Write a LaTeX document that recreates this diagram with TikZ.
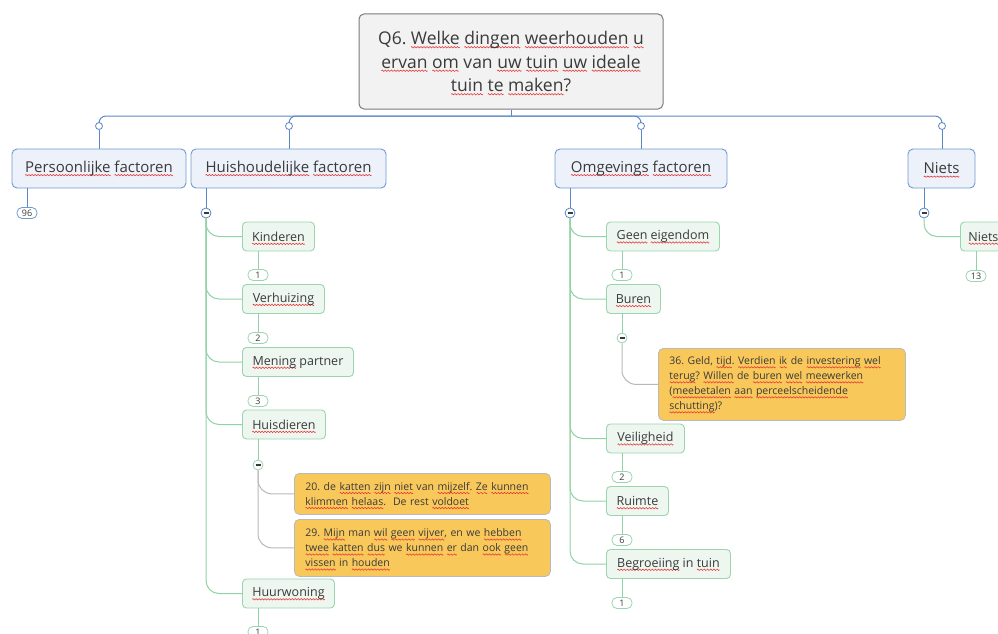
\documentclass[tikz,border=0pt]{standalone}
\usepackage{fontspec}
\setmainfont{Open Sans}
\frenchspacing
\definecolor{txt}{HTML}{3A3A3A}
\definecolor{rootfill}{HTML}{F2F2F2}
\definecolor{rootborder}{HTML}{7A7A7A}
\definecolor{bluefill}{HTML}{EDF2FA}
\definecolor{blueborder}{HTML}{6F99D0}
\definecolor{blueline}{HTML}{5A88C6}
\definecolor{greenfill}{HTML}{EEF6F0}
\definecolor{greenborder}{HTML}{9AD5AD}
\definecolor{greenline}{HTML}{93D1A6}
\definecolor{notefill}{HTML}{F9C85B}
\definecolor{noteborder}{HTML}{B9B9B9}
\definecolor{grayline}{HTML}{B8B8B8}
\definecolor{squig}{HTML}{E83030}
\newsavebox\wavebox
\newsavebox\sqbox
\newcommand\sq[1]{\sbox\sqbox{#1}\leavevmode\rlap{\raisebox{-3.2pt}[0pt][0pt]{\hbox to\wd\sqbox{\xleaders\copy\wavebox\hfil}}}\usebox\sqbox}
\tikzset{
 rootbox/.style={draw=rootborder, fill=rootfill, rounded corners=5pt, line width=1pt, align=center, font=\fontsize{17.5}{23.5}\selectfont, text=txt, minimum width=304pt, minimum height=95pt, inner sep=0pt},
 mainbox/.style={draw=blueborder, fill=bluefill, rounded corners=5pt, line width=0.9pt, font=\fontsize{15}{18}\selectfont, text=txt, minimum height=39pt, inner sep=0pt},
 childbox/.style={draw=greenborder, fill=greenfill, rounded corners=4pt, line width=0.9pt, font=\fontsize{12.5}{15}\selectfont, text=txt, minimum height=29pt, inner sep=0pt, anchor=west},
 notebox/.style={draw=noteborder, fill=notefill, rounded corners=5pt, line width=0.8pt, font=\fontsize{10.5}{15}\selectfont, text=txt, align=left, anchor=north west, inner xsep=11pt, inner ysep=3pt},
 lbl/.style={draw=greenborder, fill=white, rounded corners=5pt, minimum width=20pt, minimum height=11pt, inner sep=0pt, font=\fontsize{9}{9}\selectfont, text=txt, line width=0.8pt},
 minusc/.style={circle, draw=blueline, fill=white, minimum size=10pt, inner sep=0pt, line width=0.8pt, path picture={\draw[line width=1.3pt, txt] ([xshift=-2.5pt]path picture bounding box.center) -- ([xshift=2.5pt]path picture bounding box.center);}},
 dotc/.style={circle, draw=blueline, fill=white, minimum size=7pt, inner sep=0pt, line width=0.8pt},
 bl/.style={draw=blueline, line width=1pt},
 gl/.style={draw=greenline, line width=1pt},
 grl/.style={draw=grayline, line width=1pt},
}
\begin{document}
\sbox\wavebox{\begin{pgfpicture}%
\pgfpathrectangle{\pgfpoint{0pt}{-0.5pt}}{\pgfpoint{3pt}{1pt}}\pgfusepath{use as bounding box}%
\pgfsetcolor{squig}\pgfsetlinewidth{0.55pt}%
\pgfpathmoveto{\pgfpoint{0pt}{0pt}}%
\pgfpathlineto{\pgfpoint{0.75pt}{0.7pt}}%
\pgfpathlineto{\pgfpoint{2.25pt}{-0.7pt}}%
\pgfpathlineto{\pgfpoint{3pt}{0pt}}%
\pgfusepath{stroke}%
\end{pgfpicture}}%
\begin{tikzpicture}[x=1pt,y=-1pt]
\useasboundingbox (0,0) rectangle (998,634);
\clip (0,0) rectangle (998,634);
% root
\node[rootbox] (root) at (511,61.5) {Q6. \sq{Welke} \sq{dingen} \sq{weerhouden} \sq{u}\\ \sq{ervan} \sq{om} van \sq{uw} \sq{tuin} \sq{uw} \sq{ideale}\\ \sq{tuin} \sq{te} \sq{maken}?};
% main
\node[mainbox, minimum width=174pt] (P) at (99,168.5) {\sq{Persoonlijke} \sq{factoren}};
\node[mainbox, minimum width=195pt] (H) at (288.5,168.5) {\sq{Huishoudelijke} \sq{factoren}};
\node[mainbox, minimum width=172pt] (O) at (641,168.5) {\sq{Omgevings} \sq{factoren}};
\node[mainbox, minimum width=67pt] (N) at (941.5,168.5) {\sq{Niets}};
\coordinate (bus) at (511,116);
\node[dotc] (dP) at (99,126) {};
\node[dotc] (dH) at (289,126) {};
\node[dotc] (dO) at (641,126) {};
\node[dotc] (dN) at (942,126) {};
\draw[bl] (root.south) -- (bus);
\foreach \d/\b in {dP/P,dH/H,dO/O,dN/N}{
 \draw[bl, rounded corners=7pt] (\d.north) |- (bus);
 \draw[bl] (\d.south) -- (\d.south |- \b.north);
}
% below main
\node[lbl, draw=blueborder] (l96) at (27,213) {96};
\draw[bl] (l96.north |- P.south) -- (l96.north);
\node[minusc] (mH) at (206,213) {};
\node[minusc] (mO) at (570,213) {};
\node[minusc] (mN) at (924,213) {};
\draw[bl] (mH.north |- H.south) -- (mH.north);
\draw[bl] (mO.north |- O.south) -- (mO.north);
\draw[bl] (mN.north |- N.south) -- (mN.north);
% Huishoudelijke children
\node[childbox, minimum width=72pt] (k1) at (242,236.5) {\sq{Kinderen}};
\node[childbox, minimum width=82pt] (k2) at (242,299) {\sq{Verhuizing}};
\node[childbox, minimum width=111pt] (k3) at (242,362) {\sq{Mening} partner};
\node[childbox, minimum width=83pt] (k4) at (242,424.5) {\sq{Huisdieren}};
\node[childbox, minimum width=92pt] (k5) at (242,593.5) {\sq{Huurwoning}};
\node[lbl] (lk1) at (258,275) {1};
\node[lbl] (lk2) at (258,338) {2};
\node[lbl] (lk3) at (258,401) {3};
\node[lbl] (lk5) at (258,632) {1};
\node[minusc, draw=greenborder] (mk4) at (258,465) {};
\foreach \c in {k1,k2,k3,k4,k5}{\draw[gl, rounded corners=13pt] (mH.south) |- (\c.west);}
\foreach \c/\l in {k1/lk1,k2/lk2,k3/lk3,k5/lk5}{\draw[gl] (\l.north |- \c.south) -- (\l.north);}
\draw[gl] (mk4.north |- k4.south) -- (mk4.north);
\node[notebox, text width=234pt, minimum height=41pt] (n1) at (294,473) {20. de \sq{katten} \sq{zijn} \sq{niet} van \sq{mijzelf}. \sq{Ze} \sq{kunnen}\\ \sq{klimmen} \sq{helaas}.\ \ De rest \sq{voldoet}};
\node[notebox, text width=234pt, minimum height=57pt] (n2) at (294,519) {29. \sq{Mijn} man \sq{wil} \sq{geen} \sq{vijver}, en we \sq{hebben}\\ \sq{twee} \sq{katten} \sq{dus} we \sq{kunnen} \sq{er} dan \sq{ook} \sq{geen}\\ \sq{vissen} in \sq{houden}};
\draw[grl, rounded corners=14pt] (mk4.south) |- (n1.west);
\draw[grl, rounded corners=14pt] (mk4.south) |- (n2.west);
% Omgevings children
\node[childbox, minimum width=113pt] (g1) at (606,236.5) {\sq{Geen} \sq{eigendom}};
\node[childbox, minimum width=54pt] (g2) at (606,299) {\sq{Buren}};
\node[childbox, minimum width=78pt] (g3) at (606,438.5) {\sq{Veiligheid}};
\node[childbox, minimum width=62pt] (g4) at (606,501) {\sq{Ruimte}};
\node[childbox, minimum width=124pt] (g5) at (606,564) {\sq{Begroeiing} in \sq{tuin}};
\node[lbl] (lg1) at (622,275) {1};
\node[lbl] (lg3) at (622,477) {2};
\node[lbl] (lg4) at (622,540) {6};
\node[lbl] (lg5) at (622,603) {1};
\node[minusc, draw=greenborder] (mg2) at (622,338) {};
\foreach \c in {g1,g2,g3,g4,g5}{\draw[gl, rounded corners=13pt] (mO.south) |- (\c.west);}
\foreach \c/\l in {g1/lg1,g3/lg3,g4/lg4,g5/lg5}{\draw[gl] (\l.north |- \c.south) -- (\l.north);}
\draw[gl] (mg2.north |- g2.south) -- (mg2.north);
\node[notebox, text width=225pt, minimum height=72pt] (n3) at (658,348) {36. Geld, \sq{tijd}. \sq{Verdien} \sq{ik} de \sq{investering} \sq{wel}\\ \sq{terug}? \sq{Willen} de \sq{buren} \sq{wel} \sq{meewerken}\\ (\sq{meebetalen} \sq{aan} \sq{perceelscheidende}\\ \sq{schutting})?};
\draw[grl, rounded corners=14pt] (mg2.south) |- (n3.west);
% Niets child
\node[childbox, inner xsep=8pt] (nc) at (960,236.5) {\sq{Niets}};
\node[lbl] (l13) at (976,276) {13};
\draw[gl, rounded corners=13pt] (mN.south) |- (nc.west);
\draw[gl] (l13.north |- nc.south) -- (l13.north);
\end{tikzpicture}
\end{document}
